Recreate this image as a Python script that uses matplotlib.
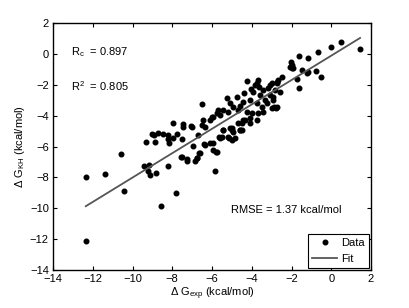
import numpy as np
import matplotlib
matplotlib.use("Agg")
import matplotlib.pyplot as plt

plt.rcParams["font.family"] = ["Liberation Sans", "DejaVu Sans"]
plt.rcParams["mathtext.fontset"] = "custom"
plt.rcParams["mathtext.rm"] = "Liberation Sans"
plt.rcParams["mathtext.it"] = "Liberation Sans:italic"

dg_exp = [
    -12.35, -12.35, -11.4, -10.45, -10.6, -9.42, -9.17, -9.2, -9.12, -8.82,
    -8.58, -8.23, -7.83, -7.58, -7.26, -6.86, -6.77, -6.49, -7.95, -7.47,
    -7.02, -6.44, -9.03, -8.92, -8.87, -9.34, -8.23, -7.95, -7.44, -7.07,
    -6.52, -6.36, -8.7, -8.49, -8.2, -8.15, -7.78, -7.49, -6.69, -6.97,
    -6.4, -6.64, -7.53, -7.28, -6.77, -4.26, -3.75, -3.62, -3.08, -2.75,
    -4.39, -3.92, -3.58, -3.42, -3.08, -2.83, -4.76, -4.43, -4.09, -3.75,
    -5.09, -4.93, -4.59, -5.43, -5.18, -5.77, -5.93, -5.6, -6.1, -2.91,
    -3.25, -3.0, -3.42, -2.75, -4.09, -4.43, -3.75, -4.68, -5.09, -4.93,
    -4.59, -5.43, -5.6, -5.18, -4.84, -4.26, 1.45, 0.49, -0.03, -0.65,
    -1.16, -1.61, -2.03, -1.96, -1.91, -2.08, -1.46, -1.16, -0.77, -0.52,
    -1.74, -1.61, -2.49, -2.71, -3.0, -3.67, -4.06, -3.84, -3.17, -2.91,
    -2.86, -2.78, -3.33, -3.5, -3.67, -3.97, -4.34, -4.68, -5.27, -5.68,
    -6.02, -4.51, -5.01, -5.52, -5.94, -5.77, -5.85, -6.35, -6.1, -5.93,
    -5.8, -5.63, -5.46, -5.13, -5.01, -5.01, -4.59, -4.51, -4.09, -6.6,
    -2.58, -2.66, -2.0, -1.21,
]
dg_kh = [
    -12.1, -7.95, -7.78, -8.9, -6.5, -7.24, -7.2, -7.56, -7.82, -7.71,
    -9.87, -7.24, -9.0, -6.7, -6.92, -6.96, -6.74, -3.25, -4.45, -4.71,
    -4.71, -4.28, -5.19, -5.23, -5.69, -5.73, -5.25, -5.45, -4.52, -4.67,
    -4.6, -4.76, -5.15, -5.21, -5.54, -5.75, -5.21, -5.51, -5.25, -5.95,
    -5.84, -6.44, -6.66, -6.83, -6.77, -1.74, -1.91, -2.17, -2.02, -1.91,
    -2.55, -2.45, -2.66, -2.34, -2.66, -2.34, -2.77, -3.1, -2.99, -3.2,
    -3.2, -3.42, -3.38, -3.63, -3.74, -3.85, -4.07, -3.96, -4.28, -2.99,
    -3.2, -3.52, -3.74, -3.42, -4.17, -4.28, -4.28, -4.5, -4.82, -5.04,
    -4.93, -4.93, -5.47, -5.36, -5.47, -3.74, 0.3, 0.79, 0.47, 0.1,
    -0.29, -0.12, -0.51, -0.72, -0.93, -0.83, -1.04, -1.15, -1.11, -1.48,
    -1.63, -2.23, -1.52, -1.8, -1.91, -1.69, -2.29, -2.02, -2.23, -2.77,
    -3.42, -3.48, -2.99, -3.42, -3.85, -3.85, -4.28, -3.63, -2.88, -3.63,
    -4.07, -4.93, -4.93, -5.36, -5.79, -6.33, -7.56, -5.91, -5.75, -6.23,
    -6.38, -5.36, -4.93, -5.47, -5.58, -4.82, -4.93, -4.5, -4.5, -6.44,
    -2.45, -1.69, -0.94, -1.22,
]

fit_slope = 0.79
fit_intercept = -0.11

stats_rc = 0.897
stats_r2 = 0.805
stats_rmse = 1.37

fig = plt.figure(figsize=(4.09, 3.08), dpi=100)
ax = fig.add_axes([0.1296, 0.1234, 0.7775, 0.8016])

ax.plot(dg_exp, dg_kh, "o", color="black", markersize=3.3, label="Data")
xfit = np.array([min(dg_exp), max(dg_exp)])
ax.plot(xfit, fit_slope * xfit + fit_intercept, color="#555555", linewidth=1.3, label="Fit")

ax.set_xlim(-14, 2)
ax.set_ylim(-14, 2)
ax.set_xticks(range(-14, 3, 2))
ax.set_yticks(range(-14, 3, 2))
ax.tick_params(direction="in", top=True, right=True, labelsize=8, length=3, pad=3)
for s in ax.spines.values():
    s.set_linewidth(1.0)

ax.set_xlabel(r"$\Delta$ G$_{\rm exp}$ (kcal/mol)", fontsize=8, labelpad=1)
ax.set_ylabel(r"$\Delta$ G$_{\rm KH}$ (kcal/mol)", fontsize=8, labelpad=2)

ax.text(-13.1, 0.1, r"R$_{\rm c}$  = %.3f" % stats_rc, fontsize=8, va="center")
ax.text(-13.1, -2.1, r"R$^2$  = %.3f" % stats_r2, fontsize=8, va="center")
ax.text(-5.05, -10.1, "RMSE = %.2f kcal/mol" % stats_rmse, fontsize=8, va="center")

leg = ax.legend(loc="lower right", fontsize=8, fancybox=False, edgecolor="black",
                framealpha=1, borderaxespad=0.2, handlelength=2.2,
                borderpad=0.35, labelspacing=0.55, handletextpad=0.4)
leg.get_frame().set_linewidth(0.8)

fig.savefig("out.png", dpi=100)
